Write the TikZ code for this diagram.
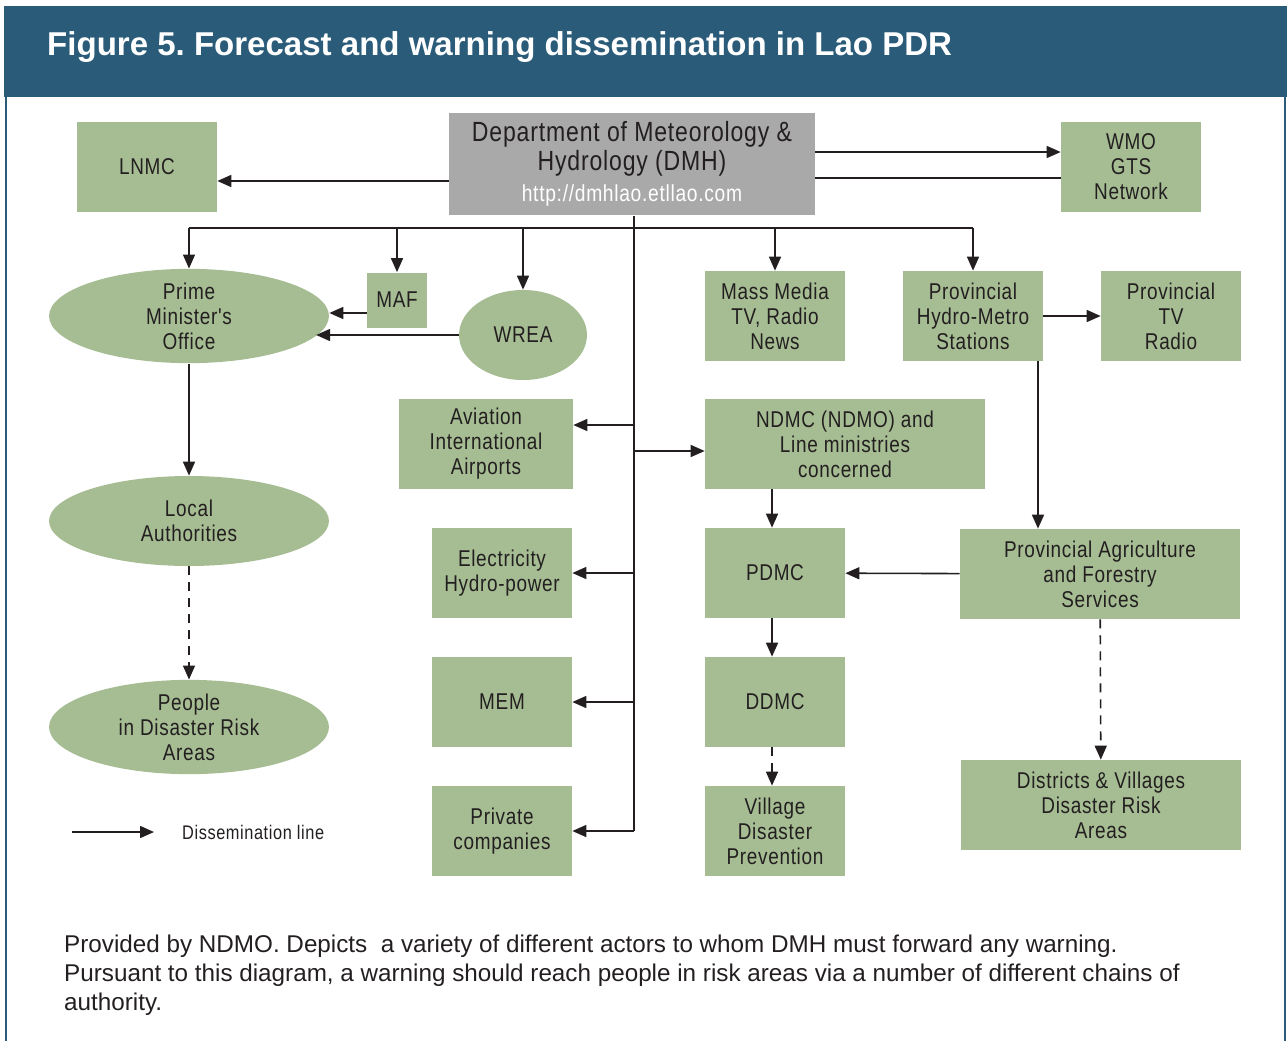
\documentclass[tikz,border=0pt]{standalone}
\usepackage{fontspec}
\setmainfont{Liberation Sans}
\newfontfamily\condfont[FakeStretch=0.83, LetterSpace=3]{Liberation Sans}
\usetikzlibrary{shapes.geometric,arrows.meta}
\frenchspacing

\definecolor{headblue}{HTML}{2A5B79}
\definecolor{boxgreen}{HTML}{A6BD93}
\definecolor{boxgray}{HTML}{A9A9A9}
\definecolor{inkgray}{HTML}{231F20}

\begin{document}
\begin{tikzpicture}[
        x=0.02cm, y=-0.02cm,
        base/.style={fill=boxgreen, text=inkgray, align=center, inner sep=0pt, font=\condfont\fontsize{13}{14.2}\selectfont},
        box/.style={base, rectangle, minimum width=2.8cm, minimum height=1.8cm},
        widebox/.style={box, minimum width=5.6cm},
        oval/.style={base, ellipse, minimum width=5.6cm, minimum height=1.8cm},
        link/.style={draw=inkgray, line width=0.9pt},
        arr/.style={link, -{Triangle[length=0.28cm, width=0.24cm]}},
        dasharr/.style={arr, dash pattern=on 0.18cm off 0.14cm}
    ]
        \useasboundingbox (0,0) rectangle (1287,1041);

        % Frame and heading
        \fill[headblue] (4,6) rectangle (1287,97);
        \draw[headblue, line width=1.2pt] (6,97) -- (6,1041);
        \draw[headblue, line width=1.2pt] (1285,97) -- (1285,1041);
        \node[anchor=west, text=white, font=\bfseries\fontsize{18.8}{22}\selectfont] (title) at (41,47) {Figure 5. Forecast and warning dissemination in Lao PDR};

        % Top row
        \node[base, rectangle, fill=boxgray, minimum width=7.32cm, minimum height=2.06cm, font=\condfont\fontsize{15.8}{16.5}\selectfont] (dmh) at (632,164)
            {Department of Meteorology \&\\Hydrology (DMH)\\[1.5pt]{\color{white}\fontsize{13.2}{16.5}\selectfont http://dmhlao.etllao.com}};
        \node[box] (lnmc) at (147,167) {LNMC};
        \node[box] (wmo) at (1131,167) {WMO\\GTS\\Network};

        % Second row
        \node[oval] (pmo) at (189,316) {Prime\\Minister's\\Office};
        \node[box, minimum width=1.2cm, minimum height=1.1cm] (maf) at (397,300) {MAF};
        \node[oval, minimum width=2.56cm] (wrea) at (523,335) {WREA};
        \node[box] (mass) at (775,316) {Mass Media\\TV, Radio\\News};
        \node[box] (phms) at (973,316) {Provincial\\Hydro-Metro\\Stations};
        \node[box] (ptv) at (1171,316) {Provincial\\TV\\Radio};

        % Middle column
        \node[box, minimum width=3.48cm] (avia) at (486,444) {Aviation\\International\\Airports};
        \node[box] (elec) at (502,573) {Electricity\\Hydro-power};
        \node[box] (mem) at (502,702) {MEM};
        \node[box] (priv) at (502,831) {Private\\companies};

        % Disaster management chain
        \node[widebox] (ndmc) at (845,444) {NDMC (NDMO) and\\Line ministries\\concerned};
        \node[box] (pdmc) at (775,573) {PDMC};
        \node[box] (ddmc) at (775,702) {DDMC};
        \node[box] (vdp) at (775,831) {Village\\Disaster\\Prevention};
        \node[widebox] (pafs) at (1100,574) {Provincial Agriculture\\and Forestry\\Services};
        \node[widebox] (dva) at (1101,805) {Districts \& Villages\\Disaster Risk\\Areas};

        % Left column
        \node[oval] (la) at (189,521) {Local\\Authorities};
        \node[oval] (people) at (189,727) {People\\in Disaster Risk\\Areas};

        % Legend and caption
        \node[anchor=west, text=inkgray, font=\condfont\fontsize{11.2}{13}\selectfont] (legtxt) at (176,832) {Dissemination line};
        \coordinate (legA) at (72,832);
        \node[anchor=north west, align=left, text=inkgray, font=\fontsize{13.8}{16.5}\selectfont] (caption) at (58,929)
            {Provided by NDMO. Depicts~ a variety of different actors to whom DMH must forward any warning.\\
             Pursuant to this diagram, a warning should reach people in risk areas via a number of different chains of\\
             authority.};

        % Helper points
        \coordinate (dmhL) at ([yshift=-0.34cm]dmh.west);
        \coordinate (dmhR1) at ([yshift=0.24cm]dmh.east);
        \coordinate (dmhR2) at ([yshift=-0.28cm]dmh.east);
        \coordinate (bus) at ([xshift=0.04cm, yshift=-0.24cm]dmh.south);
        \coordinate (trunk) at ([xshift=0.04cm]dmh.south);
        \coordinate (avl) at ([yshift=0.38cm]avia.east);
        \coordinate (ndl) at ([yshift=-0.14cm]ndmc.west);
        \coordinate (mafL) at ([yshift=-0.26cm]maf.west);
        \coordinate (phD) at ([xshift=1.3cm]phms.south);
        \coordinate (ndD) at ([xshift=-1.46cm]ndmc.south);

        % Connections from DMH
        \draw[arr] (dmhL) -- (dmhL -| lnmc.east);
        \draw[arr] (dmhR1) -- (dmhR1 -| wmo.west);
        \draw[link] (dmhR2 -| wmo.west) -- (dmhR2);
        \draw[link] (bus -| pmo) -- (bus -| phms);
        \draw[arr] (bus -| pmo) -- (pmo);
        \draw[arr] (bus -| maf) -- (maf);
        \draw[arr] (bus -| wrea) -- (wrea);
        \draw[arr] (bus -| mass) -- (mass);
        \draw[arr] (bus -| phms) -- (phms);
        \draw[link] (trunk) -- (trunk |- priv);
        \draw[arr] (trunk |- avl) -- (avl);
        \draw[arr] (trunk |- ndl) -- (ndl);
        \draw[arr] (trunk |- elec) -- (elec);
        \draw[arr] (trunk |- mem) -- (mem);
        \draw[arr] (trunk |- priv) -- (priv);

        % Other connections
        \draw[arr] (mafL) -- (mafL -| pmo.east);
        \draw[arr] (wrea.west) -- (pmo.-9 |- wrea.west);
        \draw[arr] (pmo) -- (la);
        \draw[dasharr] (la) -- (people);
        \draw[arr] (phms) -- (ptv);
        \draw[arr] (phD) -- (phD |- pafs.north);
        \draw[arr] (pafs) -- (pdmc);
        \draw[dasharr] (pafs) -- (dva);
        \draw[arr] (ndD) -- (ndD |- pdmc.north);
        \draw[arr] (ndD |- pdmc.south) -- (ndD |- ddmc.north);
        \draw[dasharr] (ndD |- ddmc.south) -- (ndD |- vdp.north);
        \draw[arr] (legA) -- ([xshift=-0.44cm]legtxt.west);

    \end{tikzpicture}
\end{document}
